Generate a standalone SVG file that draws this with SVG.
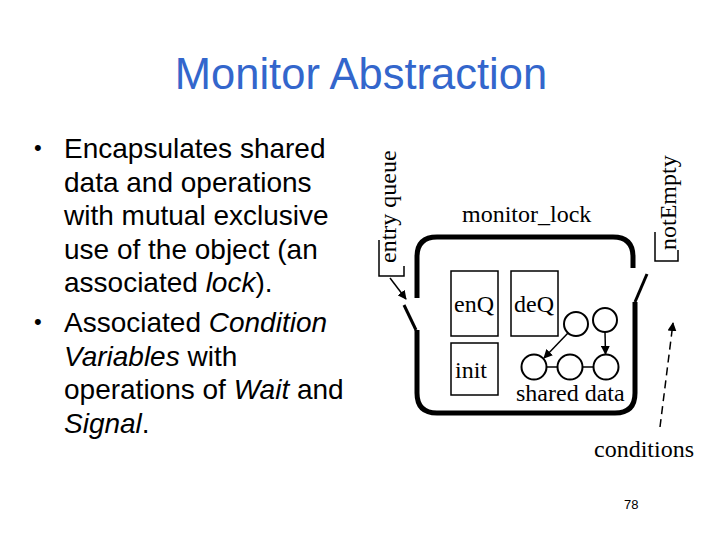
<svg xmlns="http://www.w3.org/2000/svg" width="720" height="540" viewBox="0 0 720 540">
<defs>
<marker id="ah" viewBox="0 0 10 10" refX="9" refY="5" markerWidth="9" markerHeight="9" markerUnits="userSpaceOnUse" orient="auto">
<path d="M0,0 L10,5 L0,10 z" fill="#000"/>
</marker>
</defs>
<style>
.title{font-family:"Liberation Sans",Arial,sans-serif;font-size:43.5px;fill:#3366cc}
.body{font-family:"Liberation Sans",Arial,sans-serif;font-size:28px;fill:#000}
.bul{font-family:"Liberation Sans",Arial,sans-serif;font-size:22px;fill:#000}
.lbl{font-family:"Liberation Serif","Times New Roman",serif;font-size:24px;fill:#000}
.wall{fill:none;stroke:#000;stroke-width:5;stroke-linejoin:round}
.door{fill:none;stroke:#000;stroke-width:3}
.box{fill:#fff;stroke:#000;stroke-width:1.5}
.thin{fill:none;stroke:#000;stroke-width:1.5}
.node{fill:#fff;stroke:#000;stroke-width:2}
.pg{font-family:"Liberation Sans",Arial,sans-serif;font-size:13px;fill:#000}
</style>
<rect width="720" height="540" fill="#fff"/>
<text class="title" x="361" y="89" text-anchor="middle">Monitor Abstraction</text>
<g id="bullets">
<text class="bul" x="34" y="155">•</text>
<text class="body" x="64" y="158">Encapsulates shared</text>
<text class="body" x="64" y="191.5">data and operations</text>
<text class="body" x="64" y="225">with mutual exclusive</text>
<text class="body" x="64" y="258.5">use of the object (an</text>
<text class="body" x="64" y="292">associated <tspan font-style="italic">lock</tspan>).</text>
<text class="bul" x="34" y="329">•</text>
<text class="body" x="64" y="332">Associated <tspan font-style="italic">Condition</tspan></text>
<text class="body" x="64" y="365.5"><tspan font-style="italic">Variables</tspan> with</text>
<text class="body" x="64" y="399">operations of <tspan font-style="italic">Wait</tspan> and</text>
<text class="body" x="64" y="432.5"><tspan font-style="italic">Signal</tspan>.</text>
</g>
<g id="monitor">
<path class="wall" d="M633,268 L633,257 Q633,237 613,237 L437,237 Q417,237 417,257 L417,298"/>
<path class="wall" d="M417,330 L417,393 Q417,413 437,413 L615,413 Q635,413 635,393 L635,302"/>
<line class="door" x1="404" y1="305" x2="416" y2="330"/>
<line class="door" x1="647" y1="274" x2="635" y2="302"/>
<text class="lbl" x="462" y="222">monitor_lock</text>
</g>
<g id="entry-queue">
<path class="thin" d="M379,240 L379,276 L404,276 L404,266"/>
<text class="lbl" transform="translate(396,263) rotate(-90)">entry queue</text>
</g>
<g id="not-empty">
<path class="thin" d="M655,232 L655,261 L678,261 L678,250"/>
<text class="lbl" transform="translate(676,250) rotate(-90)">notEmpty</text>
</g>
<g id="enQ">
<rect class="box" x="451" y="271" width="47" height="65"/>
<text class="lbl" x="454" y="312">enQ</text>
</g>
<g id="deQ">
<rect class="box" x="511" y="271" width="47" height="65"/>
<text class="lbl" x="514" y="312">deQ</text>
</g>
<g id="init">
<rect class="box" x="451" y="343" width="47" height="52"/>
<text class="lbl" x="455" y="378">init</text>
</g>
<g id="shared-data">
<circle id="n1" class="node" cx="576" cy="324" r="12"/>
<circle id="n2" class="node" cx="605" cy="320" r="12"/>
<circle id="n3" class="node" cx="534" cy="367" r="12.5"/>
<circle id="n4" class="node" cx="570" cy="367" r="12.5"/>
<circle id="n5" class="node" cx="606" cy="367" r="12.5"/>
<text class="lbl" x="516" y="401">shared data</text>
</g>
<g id="conditions">
<text class="lbl" x="594" y="457">conditions</text>
</g>
<g id="connectors">
<line class="thin" x1="390" y1="278" x2="406" y2="299" marker-end="url(#ah)"/>
<line class="thin" x1="546.5" y1="367" x2="557.5" y2="367"/>
<line class="thin" x1="582.5" y1="367" x2="593.5" y2="367"/>
<line class="thin" x1="568" y1="333" x2="544" y2="358" marker-end="url(#ah)"/>
<line class="thin" x1="605" y1="332" x2="605.5" y2="354" marker-end="url(#ah)"/>
<line class="thin" x1="660" y1="427" x2="673" y2="323" stroke-dasharray="8,5" marker-end="url(#ah)"/>
</g>
<text class="pg" x="624" y="509">78</text>
</svg>
